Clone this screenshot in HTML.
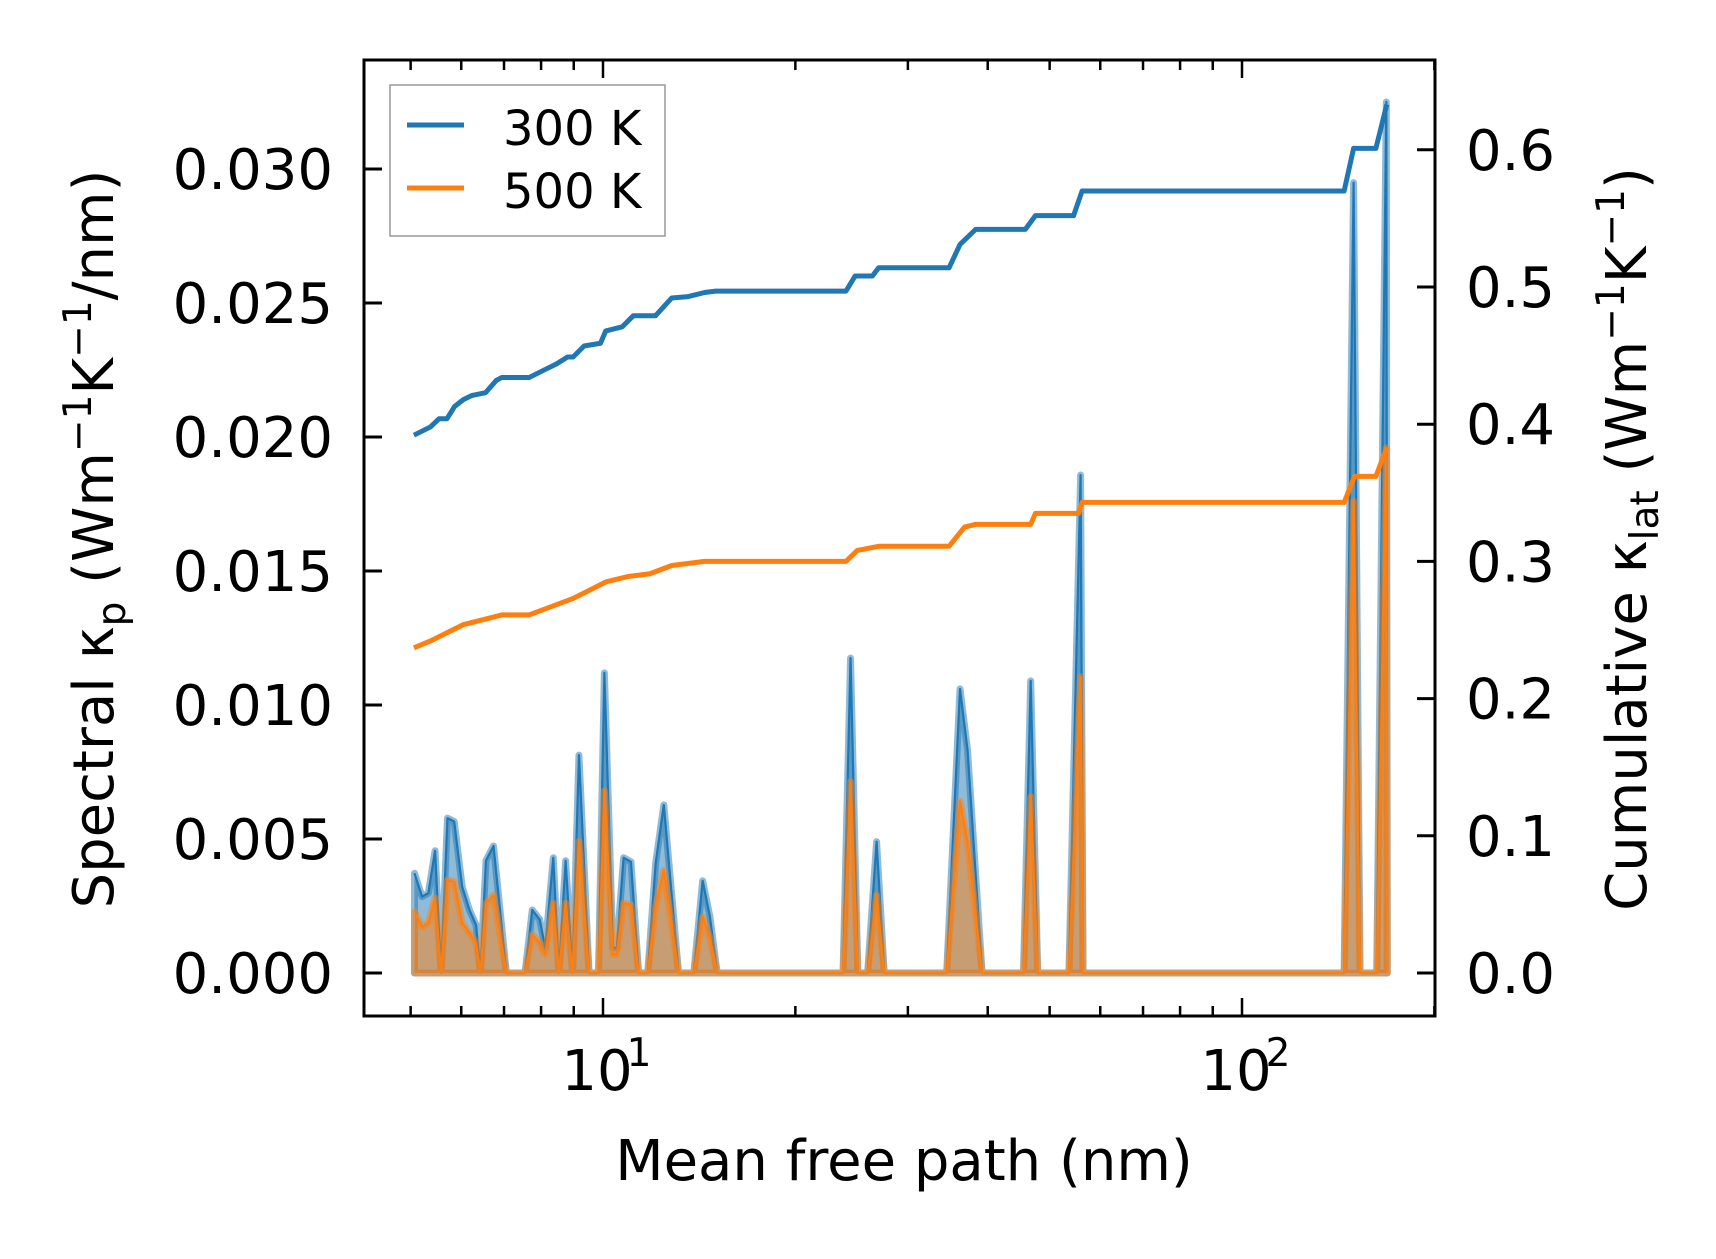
<!DOCTYPE html>
<html><head><meta charset="utf-8"><style>
html,body{margin:0;padding:0;background:#fff;}
svg text{font-family:"DejaVu Sans","Liberation Sans",sans-serif;fill:#000;}
</style></head><body>
<svg id="chart" width="1716" height="1254" viewBox="0 0 1716 1254" xmlns="http://www.w3.org/2000/svg">
<g id="plot"></g>
<g id="axes"></g>
</svg>
<script>
// Cumulative kappa (right axis)
const cumMfp300 = [5.06,5.37,5.54,5.70,5.86,6.05,6.24,6.55,6.81,6.94,7.66,8.13,8.46,8.80,8.98,9.34,9.91,10.1,10.72,11.15,12.08,12.81,13.59,14.42,15.0,24.0,24.8,26.4,27.0,34.8,36.2,38.3,45.8,47.5,54.5,56.2,144.5,149.5,162.0,168.5];
const cum300 = [0.392,0.398,0.404,0.404,0.413,0.418,0.421,0.423,0.432,0.434,0.434,0.440,0.444,0.449,0.449,0.457,0.459,0.468,0.471,0.479,0.479,0.492,0.493,0.496,0.497,0.497,0.508,0.508,0.514,0.514,0.531,0.542,0.542,0.552,0.552,0.570,0.570,0.601,0.601,0.633];
const cumMfp500 = [5.06,5.37,5.70,6.05,6.55,6.94,7.66,8.98,10.1,10.94,11.84,12.81,14.42,24.0,25.0,27.0,34.8,36.8,38.3,46.7,47.5,55.5,56.2,144.5,150.0,162.0,168.5];
const cum500 = [0.237,0.242,0.248,0.254,0.258,0.261,0.261,0.273,0.285,0.289,0.291,0.297,0.300,0.300,0.308,0.311,0.311,0.325,0.327,0.327,0.335,0.335,0.343,0.343,0.362,0.362,0.383];
// Spectral kappa (left axis)
const specMfp = [5.07,5.21,5.33,5.46,5.58,5.71,5.85,6.02,6.18,6.33,6.43,6.56,6.74,7.06,7.55,7.75,7.96,8.12,8.36,8.53,8.74,8.96,9.17,9.51,9.84,10.05,10.36,10.51,10.77,11.06,11.37,11.75,12.09,12.45,13.13,13.87,14.32,14.70,15.09,23.75,24.4,25.05,25.95,26.8,27.55,34.5,36.2,37.2,39.2,45.5,46.7,47.9,53.6,55.9,56.4,144.5,149.5,153.0,162.5,168.2,168.8];
const spec300 = [0.00372,0.00285,0.00298,0.00456,0,0.00578,0.00565,0.00322,0.00235,0.00179,0,0.0042,0.00474,0,0,0.00235,0.0020,0.00094,0.0043,0,0.00419,0,0.00813,0,0,0.0112,0.00094,0.00094,0.0043,0.00415,0,0,0.0041,0.00627,0,0,0.00344,0.0021,0,0,0.01175,0,0,0.0049,0,0,0.0106,0.0083,0,0,0.0109,0,0,0.01858,0,0,0.02949,0,0,0.0325,0];
const spec500 = [0.00229,0.00173,0.00187,0.0028,0,0.00347,0.0034,0.00187,0.0015,0.00112,0,0.0026,0.0029,0,0,0.00144,0.00112,0.0007,0.0026,0,0.0026,0,0.00491,0,0,0.0068,0.0007,0.0007,0.0026,0.00255,0,0,0.0025,0.00383,0,0,0.0021,0.0013,0,0,0.00714,0,0,0.0029,0,0,0.0064,0.0049,0,0,0.00658,0,0,0.01106,0,0,0.0176,0,0,0.0196,0];
const leftTicks = [0, 0.005, 0.010, 0.015, 0.020, 0.025, 0.030];
const leftTickLabels = ["0.000","0.005","0.010","0.015","0.020","0.025","0.030"];
const rightTicks = [0, 0.1, 0.2, 0.3, 0.4, 0.5, 0.6];
const rightTickLabels = ["0.0","0.1","0.2","0.3","0.4","0.5","0.6"];
const xMajor = [10, 100];
const xMajorExp = ["1","2"];

const L=364,R=1435,T=60,B=1016;
const NS="http://www.w3.org/2000/svg";
function xs(v){return 603+639*Math.log10(v/10);}
function yl(v){return 973-v/0.005*134;}
function yr(v){return 973-v/0.1*137.2;}
function mk(tag,attrs,parent){const e=document.createElementNS(NS,tag);for(const k in attrs)e.setAttribute(k,attrs[k]);parent.appendChild(e);return e;}
const plot=document.getElementById('plot'), axes=document.getElementById('axes');

function spectral(vals,color,name){
  let d=`M${xs(specMfp[0])},${yl(0)}`;
  specMfp.forEach((m,i)=>{d+=` L${xs(m)},${yl(vals[i])}`;});
  d+=` L${xs(specMfp[specMfp.length-1])},${yl(0)} Z`;
  const p=mk('path',{d:d,fill:color,'fill-opacity':0.5,stroke:color,'stroke-opacity':0.5,'stroke-width':7,'stroke-linejoin':'round'},plot);
  
  
  let d2='';
  specMfp.forEach((m,i)=>{d2+=(i?' L':'M')+xs(m)+','+yl(vals[i]);});
  const l=mk('path',{d:d2,fill:'none',stroke:color,'stroke-width':2.2,'stroke-linejoin':'round'},plot);
  
  
}
spectral(spec300,'#1f77b4','spectral-300k');
spectral(spec500,'#ff7f0e','spectral-500k');

function cum(mfp,vals,color,name){
  let d='';
  mfp.forEach((m,i)=>{d+=(i?' L':'M')+xs(m)+','+yr(vals[i]);});
  const l=mk('path',{d:d,fill:'none',stroke:color,'stroke-width':5,'stroke-linejoin':'round'},plot);
  
  
}
cum(cumMfp300,cum300,'#1f77b4','cumulative-300k');
cum(cumMfp500,cum500,'#ff7f0e','cumulative-500k');

const fr=mk('rect',{x:L,y:T,width:R-L,height:B-T,fill:'none',stroke:'#000','stroke-width':3},axes);



leftTicks.forEach((v,i)=>{
  const y=yl(v);
  mk('line',{x1:L,x2:L+18,y1:y,y2:y,stroke:'#000','stroke-width':3},axes);
  const t=mk('text',{x:333,y:y+20,'text-anchor':'end','font-size':56},axes);
  t.textContent=leftTickLabels[i];
  
  
});
rightTicks.forEach((v,i)=>{
  const y=yr(v);
  mk('line',{x1:R-18,x2:R,y1:y,y2:y,stroke:'#000','stroke-width':3},axes);
  const t=mk('text',{x:1466,y:y+20,'text-anchor':'start','font-size':56},axes);
  t.textContent=rightTickLabels[i];
  
  
});
for(let dec=1;dec<=1000;dec*=10){
  for(let k=1;k<10;k++){
    const v=dec*k, x=xs(v);
    if(x<L||x>R)continue;
    const len=(k===1)?18:10;
    mk('line',{x1:x,x2:x,y1:B,y2:B-len,stroke:'#000','stroke-width':2.5},axes);
    mk('line',{x1:x,x2:x,y1:T,y2:T+len,stroke:'#000','stroke-width':2.5},axes);
  }
}
xMajor.forEach((v,i)=>{
  const t=mk('text',{x:xs(v)-6,y:1090,'text-anchor':'middle','font-size':56},axes);
  t.textContent='10';
  
  
  const s=mk('text',{x:xs(v)+36,y:1066,'text-anchor':'middle','font-size':39},axes);
  s.textContent=xMajorExp[i];
  
  
});
</script>
<svg style="position:absolute;left:0;top:0" width="1716" height="1254" xmlns="http://www.w3.org/2000/svg">
  <text x="904" y="1180" text-anchor="middle" font-size="56">Mean free path (nm)</text>
  <text transform="translate(113,539) rotate(-90)" text-anchor="middle" font-size="56">Spectral κ<tspan font-size="39" dy="12">p</tspan><tspan dy="-12"> (Wm</tspan><tspan font-size="39" dy="-22">−1</tspan><tspan dy="22">K</tspan><tspan font-size="39" dy="-22">−1</tspan><tspan dy="22">/nm)</tspan></text>
  <text transform="translate(1646,539) rotate(-90)" text-anchor="middle" font-size="56">Cumulative κ<tspan font-size="39" dy="12">lat</tspan><tspan dy="-12"> (Wm</tspan><tspan font-size="39" dy="-22">−1</tspan><tspan dy="22">K</tspan><tspan font-size="39" dy="-22">−1</tspan><tspan dy="22">)</tspan></text>
  <g>
    <rect x="390" y="85" width="275" height="151" fill="#fff" fill-opacity="0.8" stroke="#999" stroke-width="1.5"/>
    <line x1="407" x2="464" y1="125" y2="125" stroke="#1f77b4" stroke-width="5"/>
    <text x="503" y="145" font-size="48">300 K</text>
    <line x1="407" x2="464" y1="188" y2="188" stroke="#ff7f0e" stroke-width="5"/>
    <text x="503" y="208" font-size="48">500 K</text>
  </g>
</svg>
</body></html>
